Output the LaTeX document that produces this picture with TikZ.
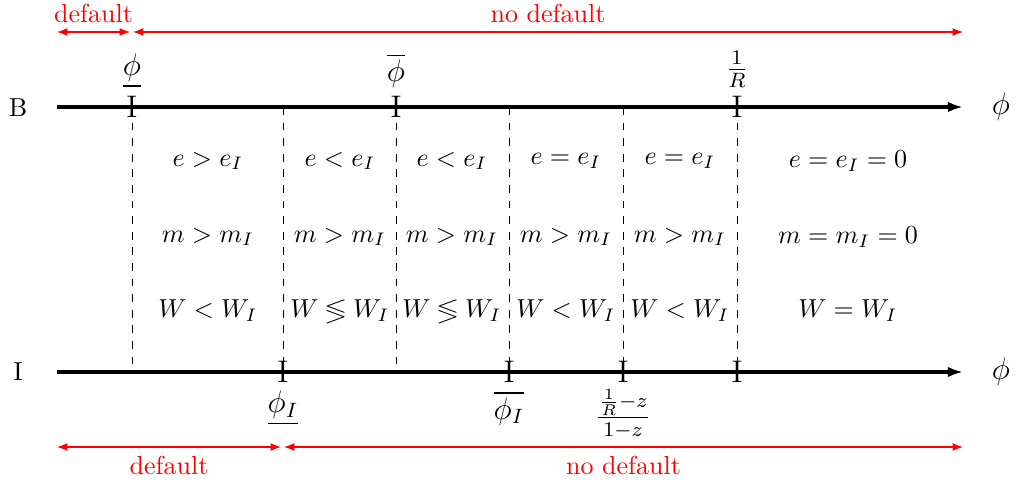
\documentclass[tikz,border=0pt]{standalone}
\usepackage{amsmath,amssymb}
\usetikzlibrary{arrows.meta}
\tikzset{
  axisline/.style={line width=1.2pt,-{Latex[length=5.8pt,width=4pt]}},
  rangearrow/.style={red,line width=0.4pt,{Latex[length=4pt,width=3pt]}-{Latex[length=4pt,width=3pt]}},
  rangelabel/.style={red,font=\normalsize},
  separator/.style={dashed,line width=0.3pt},
  axislabel/.style={font=\normalsize},
  varlabel/.style={font=\large},
  ticklabel/.style={font=\large},
  cell/.style={inner sep=0pt},
  tickI/.style={font=\large,inner sep=0pt}
}
\begin{document}
\begin{tikzpicture}[x=0.3846pt,y=-0.3846pt]
\useasboundingbox (0,0) rectangle (1020,488);

% axes
\coordinate (b0) at (57,107);
\coordinate (b1) at (963,107);
\coordinate (i0) at (57,372);
\coordinate (i1) at (963,372);
\node[axislabel] (labB) at (18,108) {B};
\node[axislabel] (labI) at (18,372) {I};
\node[varlabel] (phiB) at (1001,107) {$\phi$};
\node[varlabel] (phiI) at (1001,372) {$\phi$};

% separators
\foreach \x/\n in {132/s1,283/s2,396/s3,509/s4,623/s5,737/s6}{
  \coordinate (\n t) at (\x,107);
  \coordinate (\n b) at (\x,372);
  \draw[separator] (\n t) -- (\n b);
}

\draw[axisline] (b0) -- (b1);
\draw[axisline] (i0) -- (i1);

% ticks
\node[tickI] (k1) at (s1t) {I};
\node[tickI] (k2) at (s3t) {I};
\node[tickI] (k3) at (s6t) {I};
\node[tickI] (k4) at (s2b) {I};
\node[tickI] (k5) at (s4b) {I};
\node[tickI] (k6) at (s5b) {I};
\node[tickI] (k7) at (s6b) {I};

% tick labels above
\node[ticklabel,anchor=south] (t1) at (132,97) {$\underline{\phi}$};
\node[ticklabel,anchor=south] (t2) at (396,97) {$\overline{\phi}$};
\node[ticklabel,anchor=south] (t3) at (737,97) {$\frac{1}{R}$};
% tick labels below
\node[ticklabel,anchor=north] (u1) at (283,382) {$\underline{\phi_I}$};
\node[ticklabel,anchor=north] (u2) at (509,382) {$\overline{\phi_I}$};
\node[ticklabel,anchor=north] (u3) at (623,380) {$\frac{\frac{1}{R}-z}{1-z}$};

% cells
\node[cell] (c11) at (208,161) {$e>e_I$};
\node[cell] (c12) at (208,237) {$m>m_I$};
\node[cell] (c13) at (208,311) {$W<W_I$};
\node[cell] (c21) at (340,161) {$e<e_I$};
\node[cell] (c22) at (340,237) {$m>m_I$};
\node[cell] (c23) at (340,311) {$W\lessgtr W_I$};
\node[cell] (c31) at (452,161) {$e<e_I$};
\node[cell] (c32) at (452,237) {$m>m_I$};
\node[cell] (c33) at (452,311) {$W\lessgtr W_I$};
\node[cell] (c41) at (566,161) {$e=e_I$};
\node[cell] (c42) at (566,237) {$m>m_I$};
\node[cell] (c43) at (566,311) {$W<W_I$};
\node[cell] (c51) at (680,161) {$e=e_I$};
\node[cell] (c52) at (680,237) {$m>m_I$};
\node[cell] (c53) at (680,311) {$W<W_I$};
\node[cell] (c61) at (848,161) {$e=e_I=0$};
\node[cell] (c62) at (848,237) {$m=m_I=0$};
\node[cell] (c63) at (848,311) {$W=W_I$};

% range arrows top
\coordinate (ra0) at (57,32);
\coordinate (ra1) at (130,32);
\coordinate (ra2) at (133,32);
\coordinate (ra3) at (963,32);
\draw[rangearrow] (ra0) -- node[rangelabel,above] (rl1) {default} (ra1);
\draw[rangearrow] (ra2) -- node[rangelabel,above] (rl2) {no default} (ra3);
% range arrows bottom
\coordinate (rb0) at (57,447);
\coordinate (rb1) at (281,447);
\coordinate (rb2) at (284,447);
\coordinate (rb3) at (963,447);
\draw[rangearrow] (rb0) -- node[rangelabel,below] (rl3) {default} (rb1);
\draw[rangearrow] (rb2) -- node[rangelabel,below] (rl4) {no default} (rb3);
\end{tikzpicture}
\end{document}
